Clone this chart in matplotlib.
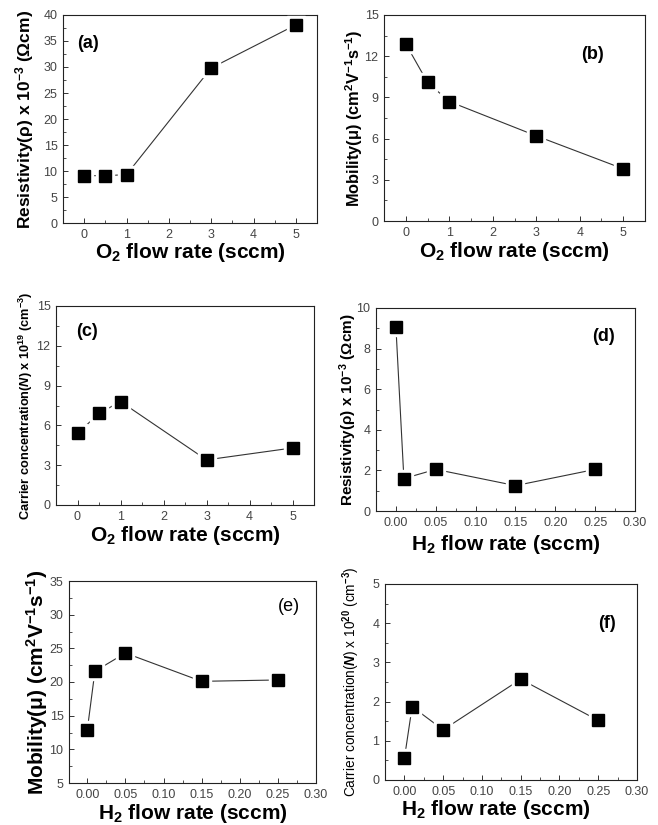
import matplotlib
matplotlib.use("Agg")
import matplotlib.pyplot as plt
from matplotlib.ticker import MultipleLocator, FormatStrFormatter

plt.rcParams['font.family'] = ['Liberation Sans', 'DejaVu Sans']
plt.rcParams['mathtext.fontset'] = 'custom'
plt.rcParams['mathtext.rm'] = 'Liberation Sans:bold'
plt.rcParams['mathtext.it'] = 'Liberation Sans:italic:bold'
plt.rcParams['mathtext.bf'] = 'Liberation Sans:bold'

# ---- data ----
o2_flow = [0, 0.5, 1, 3, 5]
h2_flow = [0, 0.01, 0.05, 0.15, 0.25]
resistivity_o2 = [9.1, 9.1, 9.3, 29.8, 38.1]
mobility_o2 = [12.9, 10.1, 8.7, 6.2, 3.8]
carrier_o2 = [5.4, 6.9, 7.8, 3.4, 4.3]
resistivity_h2 = [9.05, 1.6, 2.05, 1.25, 2.05]
mobility_h2 = [12.9, 21.6, 24.3, 20.1, 20.3]
carrier_h2 = [0.55, 1.87, 1.28, 2.57, 1.52]

W, H = 658, 825
fig = plt.figure(figsize=(W / 100, H / 100), dpi=100)


def box(l, t, r, b):
    return [l / W, 1 - b / H, (r - l) / W, (b - t) / H]


def panel(rect, x, y, xlim, ylim, xmaj, ymaj, xfmt, label, lpos, lweight,
          xlabel, ylabel, ylsize, ylweight, ylx, xly, xlx=0.5, xlsize=15):
    ax = fig.add_axes(box(*rect))
    ax.plot(x, y, '-', color='#333333', lw=0.8, zorder=2)
    ax.plot(x, y, 's', color='white', ms=12.5, mec='white', zorder=3)
    ax.plot(x, y, 's', color='black', ms=9, mec='black', zorder=4)
    ax.set_xlim(*xlim)
    ax.set_ylim(*ylim)
    ax.xaxis.set_major_locator(MultipleLocator(xmaj))
    ax.xaxis.set_minor_locator(MultipleLocator(xmaj / 2))
    ax.yaxis.set_major_locator(MultipleLocator(ymaj))
    ax.yaxis.set_minor_locator(MultipleLocator(ymaj / 2))
    ax.xaxis.set_major_formatter(FormatStrFormatter(xfmt))
    ax.tick_params(which='both', direction='in', top=False, right=False,
                   labelsize=9, labelcolor='#444444', color='#333333')
    ax.tick_params(which='major', length=3.5, width=0.7, pad=4)
    ax.tick_params(which='minor', length=2, width=0.6)
    for s in ax.spines.values():
        s.set_linewidth(0.8)
        s.set_color('#222222')
    ax.text(lpos[0], lpos[1], label, transform=ax.transAxes, ha='center',
            va='center', fontsize=13, fontweight=lweight)
    ax.set_xlabel(xlabel, fontsize=xlsize, fontweight='bold', va='center')
    ax.xaxis.set_label_coords(xlx, xly)
    ax.set_ylabel(ylabel, fontsize=ylsize, fontweight=ylweight, va='center')
    ax.yaxis.set_label_coords(ylx, 0.5)
    return ax


o2_label = r'O$_\mathbf{2}$ flow rate (sccm)'
h2_label = r'H$_\mathbf{2}$ flow rate (sccm)'
res_label = r'Resistivity(ρ) x 10$^{\mathbf{-3}}$ (Ωcm)'
mob_label = r'Mobility(μ) (cm$^\mathbf{2}$V$^\mathbf{-1}$s$^\mathbf{-1}$)'

panel((63, 15, 317, 223), o2_flow, resistivity_o2, (-0.5, 5.5), (0, 40), 1, 5,
      '%d', '(a)', (0.10, 0.865), 'bold', o2_label, res_label, 12.5, 'bold',
      -0.15, -0.142)
panel((384, 15, 645, 221), o2_flow, mobility_o2, (-0.5, 5.5), (0, 15), 1, 3,
      '%d', '(b)', (0.80, 0.806), 'bold', o2_label, mob_label, 11.8, 'bold',
      -0.113, -0.15)
panel((56, 306, 314, 505), o2_flow, carrier_o2, (-0.5, 5.5), (0, 15), 1, 3,
      '%d', '(c)', (0.12, 0.874), 'bold', o2_label,
      r'Carrier concentration($\it{N}$) x 10$^\mathbf{19}$ (cm$^\mathbf{-3}$)',
      9.2, 'bold', -0.118, -0.155)
panel((376, 308, 635, 511), h2_flow, resistivity_h2, (-0.025, 0.3), (0, 10),
      0.05, 2, '%.2f', '(d)', (0.88, 0.862), 'bold', h2_label, res_label,
      11, 'bold', -0.106, -0.167)
panel((69, 581, 316, 783), h2_flow, mobility_h2, (-0.024, 0.3), (5, 35),
      0.05, 5, '%.2f', '(e)', (0.89, 0.876), 'normal', h2_label, mob_label,
      15, 'bold', -0.13, -0.149)
panel((385, 584, 637, 780), h2_flow, carrier_h2, (-0.025, 0.3), (0, 5),
      0.05, 1, '%.2f', '(f)', (0.88, 0.80), 'bold', h2_label,
      r'Carrier concentration($\it{N}$) x 10$^\mathbf{20}$ (cm$^\mathbf{-3}$)',
      9.8, 'normal', -0.136, -0.152, xlx=0.44)

fig.savefig('out.png', dpi=100)
